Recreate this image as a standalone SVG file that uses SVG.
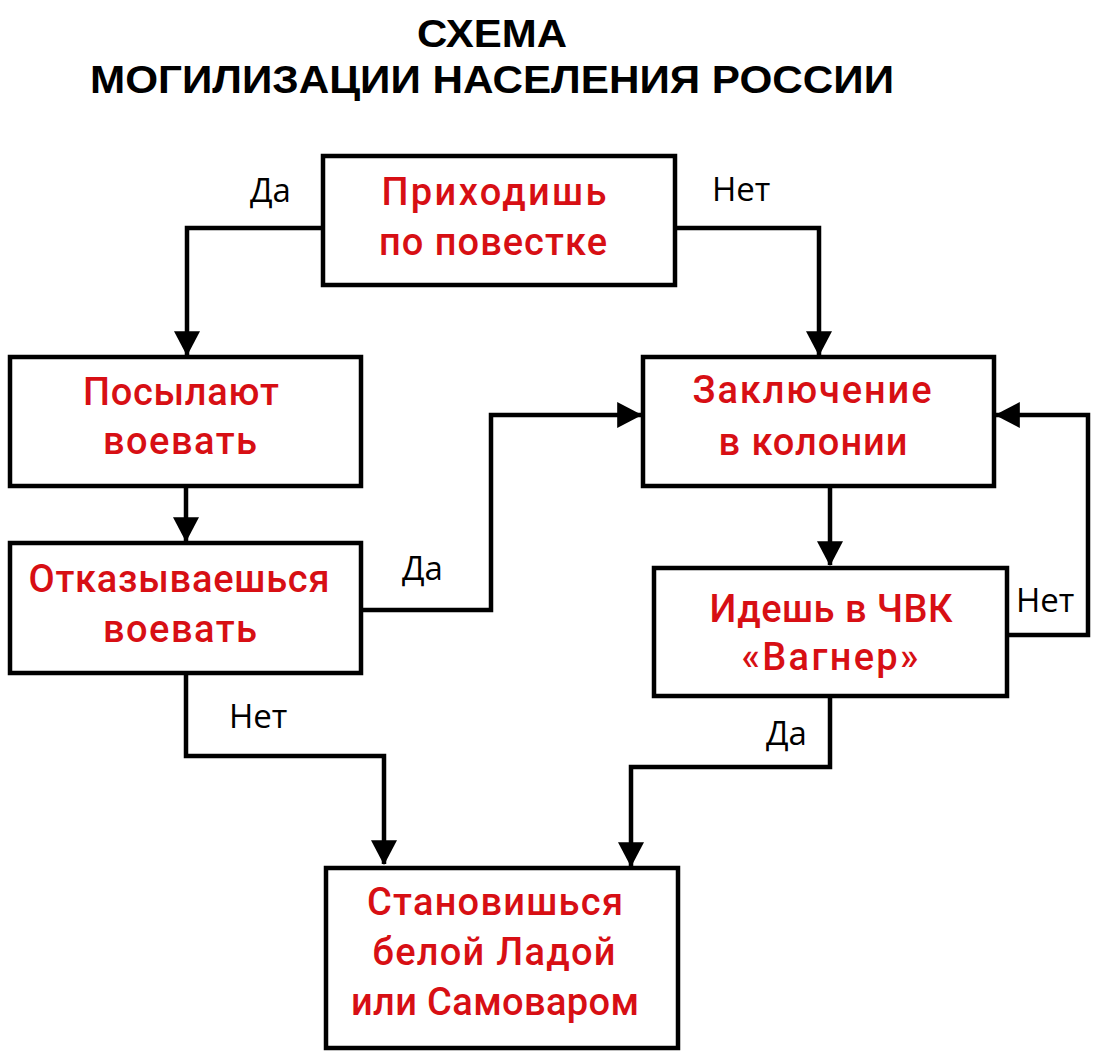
<svg xmlns="http://www.w3.org/2000/svg" width="1103" height="1051" viewBox="0 0 1103 1051">
<style>
.box{fill:#fff;stroke:#000;stroke-width:4.5}
.t{font-family:Roboto,"Noto Sans",sans-serif;font-size:38px;font-weight:500;fill:#d70f14;text-anchor:middle}
.lbl{font-family:"Open Sans","Noto Sans",sans-serif;font-size:33px;fill:#000}
.title{font-family:"Liberation Sans",Arial,sans-serif;font-weight:bold;font-size:38px;fill:#000}
.c{fill:none;stroke:#000;stroke-width:4.5;stroke-linejoin:miter}
</style>
<defs>
<marker id="ah" markerUnits="userSpaceOnUse" markerWidth="26" markerHeight="26" viewBox="0 0 24 24" refX="22" refY="12" orient="auto">
<path d="M0,0 L23,12 L0,24 Z" fill="#000"/>
</marker>
</defs>
<rect width="1103" height="1051" fill="#fff"/>
<g id="title">
<text class="title" x="417" y="47" textLength="150" lengthAdjust="spacingAndGlyphs">СХЕМА</text>
<text class="title" x="90" y="93" textLength="804" lengthAdjust="spacingAndGlyphs">МОГИЛИЗАЦИИ НАСЕЛЕНИЯ РОССИИ</text>
</g>
<g id="connectors">
<path class="c" d="M323,228 H187 V355" marker-end="url(#ah)"/>
<path class="c" d="M675,228 H819 V355" marker-end="url(#ah)"/>
<path class="c" d="M186,486 V541" marker-end="url(#ah)"/>
<path class="c" d="M361,610 H491 V415 H641" marker-end="url(#ah)"/>
<path class="c" d="M830,486 V565" marker-end="url(#ah)"/>
<path class="c" d="M1007,635 H1088 V415 H996" marker-end="url(#ah)"/>
<path class="c" d="M186,673 V756 H384 V864" marker-end="url(#ah)"/>
<path class="c" d="M830,696 V767 H631 V866" marker-end="url(#ah)"/>
<text class="lbl" x="250" y="202">Да</text>
<text class="lbl" x="712" y="201">Нет</text>
<text class="lbl" x="402" y="580">Да</text>
<text class="lbl" x="1016" y="612">Нет</text>
<text class="lbl" x="766" y="745">Да</text>
<text class="lbl" x="229" y="728">Нет</text>
</g>
<g id="n1">
<rect class="box" x="323" y="156" width="352" height="129"/>
<text class="t" x="494" y="205" textLength="225">Приходишь</text>
<text class="t" x="493" y="255" textLength="228">по повестке</text>
</g>
<g id="n2">
<rect class="box" x="10" y="357" width="351" height="129"/>
<text class="t" x="181" y="405" textLength="196">Посылают</text>
<text class="t" x="180" y="454" textLength="154">воевать</text>
</g>
<g id="n3">
<rect class="box" x="643" y="357" width="351" height="129"/>
<text class="t" x="812" y="403" textLength="239">Заключение</text>
<text class="t" x="813" y="455" textLength="189">в колонии</text>
</g>
<g id="n4">
<rect class="box" x="10" y="543" width="351" height="130"/>
<text class="t" x="179" y="592" textLength="301">Отказываешься</text>
<text class="t" x="180" y="642" textLength="154">воевать</text>
</g>
<g id="n5">
<rect class="box" x="654" y="568" width="353" height="128"/>
<text class="t" x="831" y="622" textLength="243">Идешь в ЧВК</text>
<text class="t" x="830" y="670" textLength="177">«Вагнер»</text>
</g>
<g id="n6">
<rect class="box" x="326" y="868" width="352" height="180"/>
<text class="t" x="495" y="915" textLength="256">Становишься</text>
<text class="t" x="494" y="965" textLength="243">белой Ладой</text>
<text class="t" x="495" y="1015" textLength="288">или Самоваром</text>
</g>
</svg>
